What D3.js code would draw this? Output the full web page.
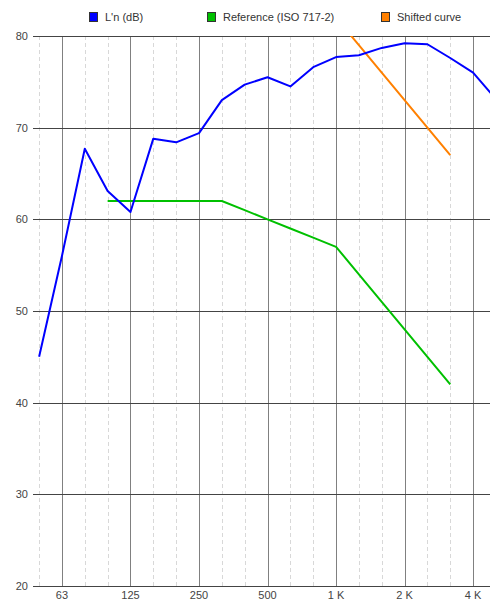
<!DOCTYPE html>
<html><head><meta charset="utf-8">
<script src="https://cdn.jsdelivr.net/npm/d3@7"></script>
<style>
body{margin:0;background:#fff;}
svg{display:block;font-family:"Liberation Sans",Arial,sans-serif;}
</style></head>
<body><div id="chart"></div>
<script>
const bands = ["50","63","80","100","125","160","200","250","315","400","500","630","800","1000","1250","1600","2000","2500","3150","4000","5000"];
const majorLabels = {"63":"63","125":"125","250":"250","500":"500","1000":"1 K","2000":"2 K","4000":"4 K"};
const yTicks = [20,30,40,50,60,70,80];
const lnValues = [45,56,67.7,63.1,60.8,68.8,68.4,69.4,73.0,74.7,75.5,74.5,76.6,77.7,77.9,78.7,79.2,79.1,77.6,76.0,73.1];
const refBands = ["100","125","160","200","250","315","400","500","630","800","1000","1250","1600","2000","2500","3150"];
const refValues = [62,62,62,62,62,62,61,60,59,58,57,54,51,48,45,42];
const shiftedValues = [87,87,87,87,87,87,86,85,84,83,82,79,76,73,70,67];
const seriesNames = ["L'n (dB)","Reference (ISO 717-2)","Shifted curve"];
const seriesColors = ["#0000ff","#00c000","#ff8000"];

const W=490,H=602;
const L=35,R=490,T=36,B=586;
const svg=d3.select("#chart").append("svg").attr("width",W).attr("height",H);

const bi = b => bands.indexOf(b);
const x = d3.scaleLinear().domain([-0.18,19.74]).range([L,R]);
const y = d3.scaleLinear().domain([20,80]).range([B,T]);

const minor = bands.filter(b=>!majorLabels[b]);
svg.append("g").selectAll("line").data(minor).join("line")
  .attr("x1",d=>Math.round(x(bi(d)))+0.5).attr("x2",d=>Math.round(x(bi(d)))+0.5)
  .attr("y1",T).attr("y2",B)
  .attr("stroke","#d8d8d8").attr("stroke-dasharray","4,3");
const major = Object.keys(majorLabels);
svg.append("g").selectAll("line").data(major).join("line")
  .attr("x1",d=>Math.round(x(bi(d)))+0.5).attr("x2",d=>Math.round(x(bi(d)))+0.5)
  .attr("y1",T).attr("y2",B)
  .attr("stroke","#808080");
svg.append("g").selectAll("line").data(yTicks).join("line")
  .attr("x1",L-2).attr("x2",R)
  .attr("y1",d=>Math.round(y(d))+0.5).attr("y2",d=>Math.round(y(d))+0.5)
  .attr("stroke","#444");
svg.append("g").selectAll("text").data(yTicks).join("text")
  .attr("x",28).attr("y",d=>y(d)+4).attr("text-anchor","end")
  .attr("font-size",11).attr("fill","#444").text(d=>d);
svg.append("g").selectAll("text").data(major).join("text")
  .attr("x",d=>x(bi(d))).attr("y",599).attr("text-anchor","middle")
  .attr("font-size",11).attr("fill","#444").text(d=>majorLabels[d]);

svg.append("clipPath").attr("id","clip").append("rect")
  .attr("x",L).attr("y",T).attr("width",R-L).attr("height",B-T);
const line = d3.line().x(d=>x(d[0])).y(d=>y(d[1]));
const g = svg.append("g").attr("clip-path","url(#clip)");
const data = [
  bands.map((b,i)=>[i,lnValues[i]]),
  refBands.map((b,i)=>[bi(b),refValues[i]]),
  refBands.map((b,i)=>[bi(b),shiftedValues[i]])
];
[2,1,0].forEach(k=>{
  g.append("path").attr("d",line(data[k])).attr("fill","none")
   .attr("stroke",seriesColors[k]).attr("stroke-width",2).attr("stroke-linejoin","round");
});

const legX=[89,207,381];
const leg = svg.append("g");
seriesNames.forEach((n,k)=>{
  leg.append("rect").attr("x",legX[k]+0.5).attr("y",12.5).attr("width",8).attr("height",9)
    .attr("fill",seriesColors[k]).attr("stroke","#333");
  leg.append("text").attr("x",legX[k]+16).attr("y",21).attr("font-size",11).attr("fill","#333").text(n);
});
</script></body></html>
